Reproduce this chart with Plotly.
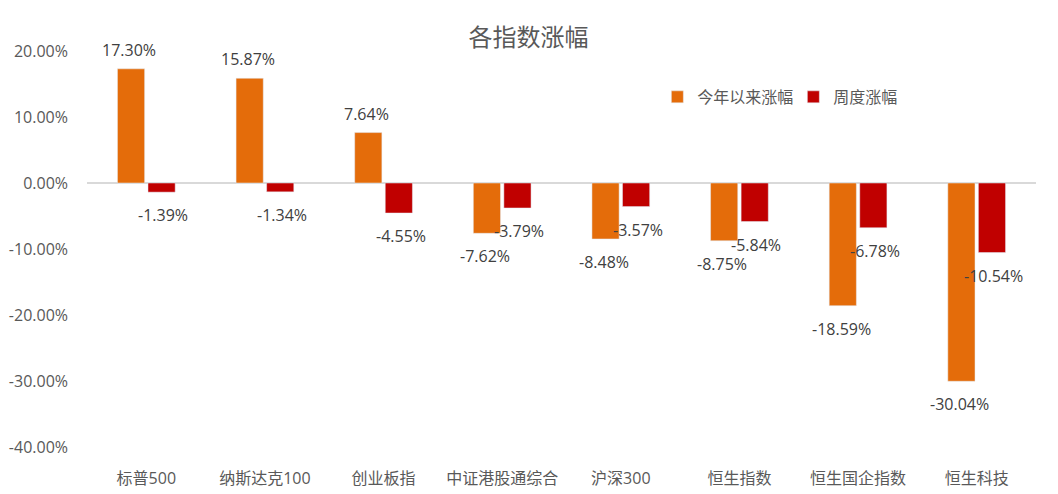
import plotly.graph_objects as go

categories = ["标普500", "纳斯达克100", "创业板指", "中证港股通综合", "沪深300", "恒生指数", "恒生国企指数", "恒生科技"]
ytd_change = [17.30, 15.87, 7.64, -7.62, -8.48, -8.75, -18.59, -30.04]
week_change = [-1.39, -1.34, -4.55, -3.79, -3.57, -5.84, -6.78, -10.54]
series_names = ["今年以来涨幅", "周度涨幅"]
y_ticks = [20, 10, 0, -10, -20, -30, -40]

ORANGE = "#E46C0A"
RED = "#C00000"
FONT = "Open Sans, Noto Sans CJK SC"

fig = go.Figure()
fig.add_trace(go.Bar(x=categories, y=ytd_change, name=series_names[0], marker_color=ORANGE))
fig.add_trace(go.Bar(x=categories, y=week_change, name=series_names[1], marker_color=RED))

# data labels, offset away from bar ends like the Excel source
for vals, dx in ((ytd_change, -17), (week_change, 17)):
    for c, v in zip(categories, vals):
        fig.add_annotation(x=c, y=v, text=f"{v:.2f}%", showarrow=False, xshift=dx,
                           yshift=19 if v >= 0 else -23,
                           font=dict(family=FONT, size=16, color="#404040"))

# page body adds an 8px margin, so the figure is 8px smaller than the window
fig.update_layout(
    width=1050, height=486,
    margin=dict(l=79, r=22, t=43, b=47),
    paper_bgcolor="white", plot_bgcolor="white",
    barmode="group", bargap=0.485, bargroupgap=0.11,
    title=dict(text="各指数涨幅", x=0.4957, xref="container", y=1 - 30 / 486, yanchor="middle",
               font=dict(family=FONT, size=24, color="#595959")),
    legend=dict(orientation="h", x=0.601, y=0.884, xanchor="left", yanchor="middle",
                font=dict(family=FONT, size=16, color="#595959"),
                entrywidth=91, entrywidthmode="pixels", traceorder="normal"),
    font=dict(family=FONT),
)
fig.update_xaxes(showgrid=False, showline=False, ticks="", ticklabelstandoff=20, automargin=False,
                 tickfont=dict(family=FONT, size=16, color="#595959"))
fig.update_yaxes(range=[-40, 20], tickvals=y_ticks, ticktext=[f"{t:.2f}%" for t in y_ticks],
                 showgrid=False, zeroline=True, zerolinecolor="#D9D9D9", zerolinewidth=2,
                 ticklabelstandoff=18, automargin=False,
                 tickfont=dict(family=FONT, size=16, color="#595959"))

fig.write_html("out.html")
